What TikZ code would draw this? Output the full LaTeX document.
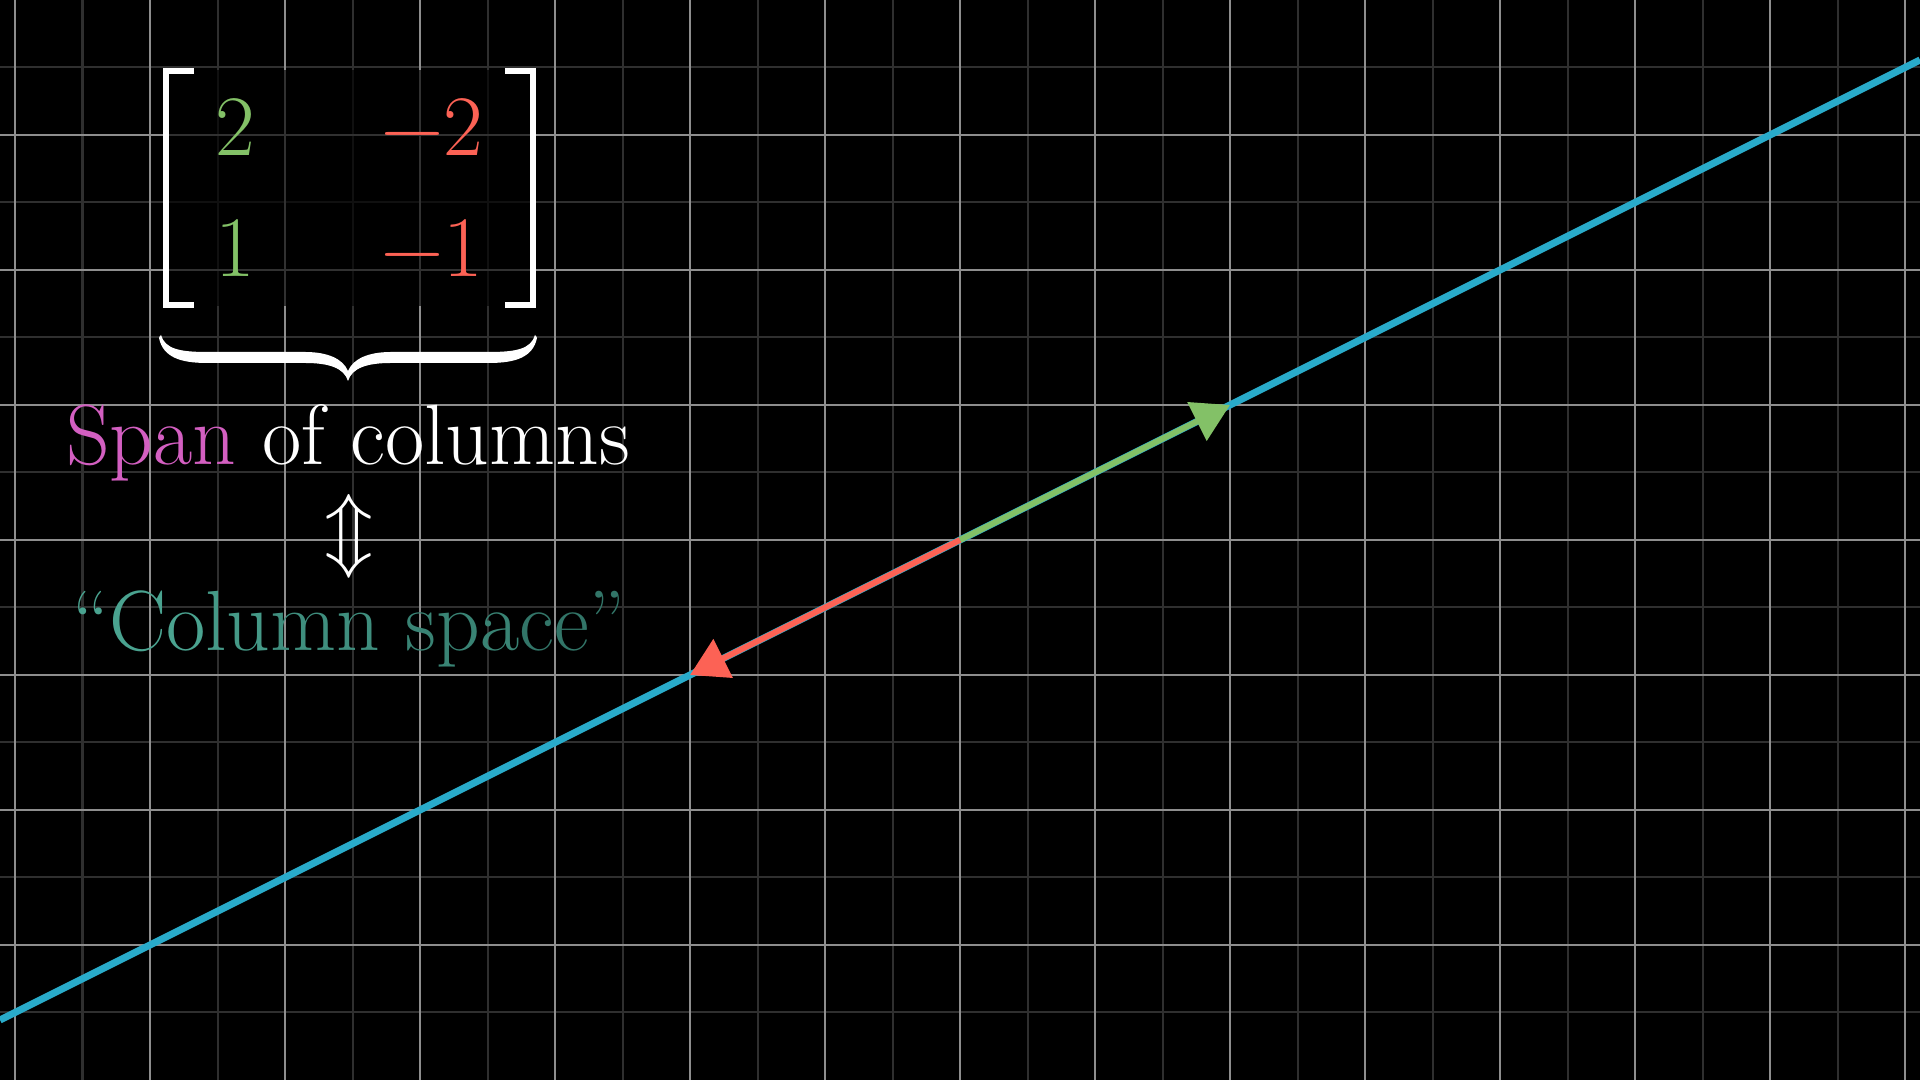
\documentclass[tikz,border=0pt]{standalone}
\usepackage{graphicx}
\usetikzlibrary{arrows.meta}
\definecolor{gridmajor}{HTML}{8E8E8E}
\definecolor{gridminor}{HTML}{2F2F2F}
\definecolor{lineblue}{HTML}{29ABCA}
\definecolor{vgreen}{HTML}{83C167}
\definecolor{vred}{HTML}{FC6255}
\definecolor{spanpink}{HTML}{D35FC1}
\definecolor{tealA}{HTML}{4AA390}
\definecolor{tealB}{HTML}{327568}
\colorlet{tc1}{tealA}
\colorlet{tc2}{tealA!78!tealB}
\colorlet{tc3}{tealA!55!tealB}
\colorlet{tc4}{tealA!30!tealB}
\colorlet{tc5}{tealB}
\begin{document}
\begin{tikzpicture}[x=0.01cm,y=-0.01cm,
  major/.style={draw=gridmajor,line width=0.022cm},
  minor/.style={draw=gridminor,line width=0.02cm},
  vec/.style={line width=0.06cm,-{Triangle[length=0.37cm,width=0.42cm]}},
  bigtext/.style={font=\fontsize{24.3}{29}\selectfont, inner sep=0pt, text=white},
  entry/.style={font=\fontsize{24.5}{29}\selectfont, inner sep=0pt},
  bracket/.style={draw=white,line width=0.06cm,line join=miter,line cap=butt}]
\fill[black] (0,0) rectangle (1920,1080);
\useasboundingbox (0,0) rectangle (1920,1080);
% grid
\foreach \i in {0,...,13} { \draw[minor] ({82.5+135*\i},0) -- ({82.5+135*\i},1080); }
\foreach \i in {0,...,7} { \draw[minor] (0,{67.5+135*\i}) -- (1920,{67.5+135*\i}); }
\foreach \i in {0,...,14} { \draw[major] ({15+135*\i},0) -- ({15+135*\i},1080); }
\foreach \i in {1,...,7} { \draw[major] (0,{135*\i}) -- (1920,{135*\i}); }
% span line and vectors
\coordinate (O) at (960,540);
\coordinate (L1) at (0,1020);
\coordinate (L2) at (1920,60);
\coordinate (G) at (1230,405);
\coordinate (R) at (690,675);
\draw[lineblue, line width=0.07cm] (L1) -- (L2);
\draw[vec, vgreen] (O) -- (G);
\draw[vec, vred] (O) -- (R);
% matrix
\fill[black, opacity=0.65] (166,70) rectangle (532,306);
\draw[bracket] (194,71) -- (166,71) -- (166,305) -- (194,305);
\draw[bracket] (505,71) -- (533,71) -- (533,305) -- (505,305);
\node[entry, text=vgreen, anchor=base] (a11) at (235,156) {2};
\node[entry, text=vgreen, anchor=base] (a21) at (235,277) {1};
\node[entry, text=vred, anchor=base east] (a12) at (484,156) {−2};
\node[entry, text=vred, anchor=base east] (a22) at (484,277) {−1};
% brace
\fill[white] (161,335)
 .. controls (165,349) and (180,352) .. (207,352)
 -- (305,352)
 .. controls (328,352) and (343,359) .. (348,371)
 .. controls (353,359) and (368,352) .. (391,352)
 -- (489,352)
 .. controls (516,352) and (531,349) .. (535,335)
 .. controls (536,336) and (537,337) .. (537,338)
 .. controls (533,357) and (516,363) .. (489,363)
 -- (391,363)
 .. controls (367,363) and (352,368) .. (348,381)
 .. controls (344,368) and (329,363) .. (305,363)
 -- (207,363)
 .. controls (180,363) and (163,357) .. (159,338)
 .. controls (159,337) and (160,336) .. (161,335) -- cycle;
% texts
\node[bigtext, anchor=base] (span) at (348,465) {\textcolor{spanpink}{Span} of columns};
\node[inner sep=0pt, text=white, font=\fontsize{24.88}{30}\selectfont] (iff) at (349,536) {\scalebox{0.92}{$\Updownarrow$}};
\node[bigtext, anchor=base] (cs) at (349,651) {\textcolor{tc1}{“Co}\textcolor{tc2}{lu}\textcolor{tc3}{mn} \textcolor{tc4}{spa}\textcolor{tc5}{ce”}};
\end{tikzpicture}
\end{document}
